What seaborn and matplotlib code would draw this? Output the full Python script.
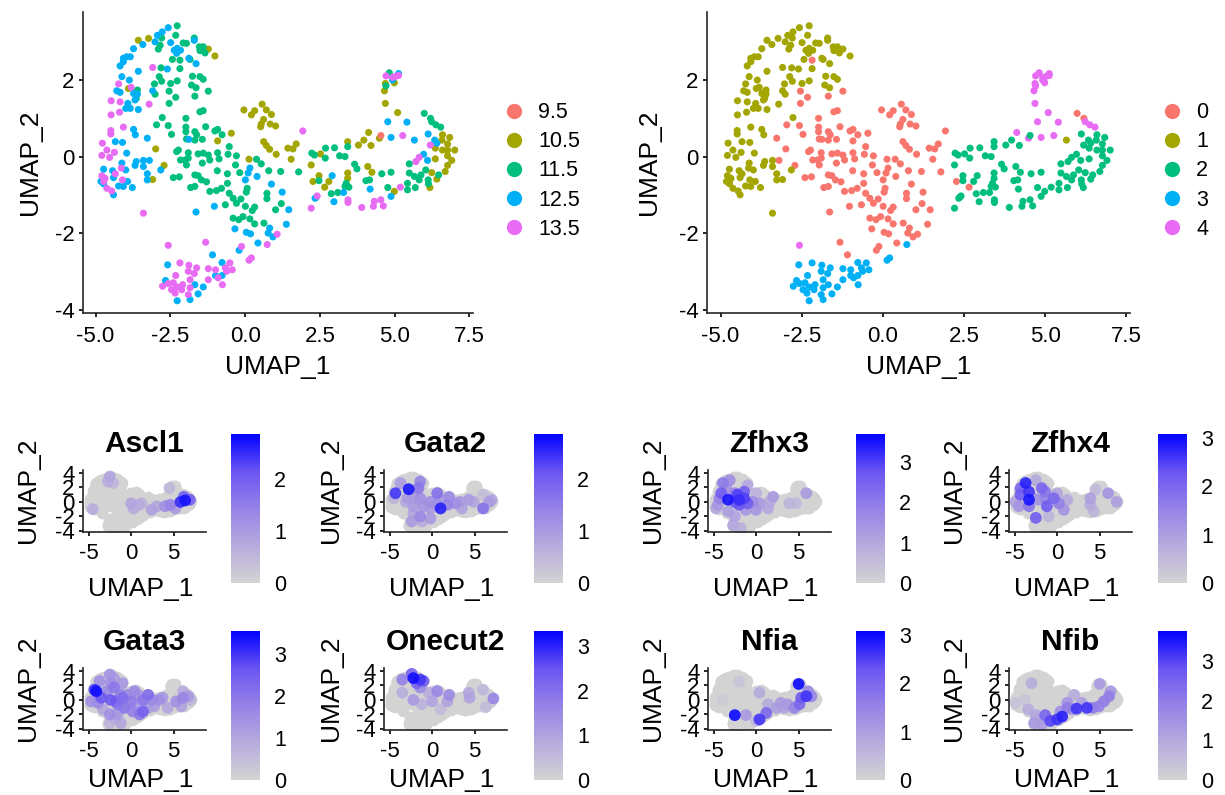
import numpy as np
import pandas as pd
import matplotlib
matplotlib.use('Agg')
import matplotlib.pyplot as plt
from matplotlib.cm import ScalarMappable
from matplotlib.colors import LinearSegmentedColormap, Normalize
import seaborn as sns

# UMAP coordinates, grouped by cluster and age
c0_105_x = [-0.04, 0.21, 0.32, 0.57, 0.71, 0.88, 0.62, 0.54, 0.52, 0.84, 1.02, 0.62, 0.71, 0.82, 1.04, 1.43, 1.6, 1.71, 1.54, -0.46, -0.92, 0.13, -2.99, -2.71, 2.27, 2.66]
c0_105_y = [1.22, 1.09, 1.2, 1.37, 1.22, 1.1, 0.97, 0.85, 0.78, 0.85, 0.8, 0.39, 0.29, 0.19, 0.06, 0.22, 0.2, 0.33, -0.07, 0.61, 0.41, -0.07, 0.2, -0.23, -0.65, -0.8]
c1_105_x = [-3.57, -3.23, -1.23, -1.01, -3.09, -3.9]
c1_105_y = [3.04, 3.09, 2.81, 2.63, -0.6, 1.78]
c2_105_x = [2.21, 2.52, 2.47, 2.8, 3.43, 3.43, 3.43, 3.79, 3.97, 4.21, 4.1, 4.24, 4.99, 6.6, 6.84, 6.58, 6.77, 6.36, 6.6, 6.77, 7.01, 6.77, 6.36, 6.91, 6.77, 6.69, 6.24, 6.41, 6.18]
c2_105_y = [-0.22, 0.07, -0.5, -0.65, 0.39, -0.43, -0.57, 0.3, 0.43, 0.29, -0.26, -0.41, -0.91, 0.57, 0.5, 0.43, 0.33, 0.22, 0.17, 0.17, 0.17, 0.02, -0.06, -0.1, -0.23, -0.39, -0.42, -0.59, -0.81]
c4_105_x = [4.66, 4.69, 4.99, 4.69, 5.1, 4.13, 4.49]
c4_105_y = [1.72, 1.91, 1.93, 1.39, 1.15, 0.63, 0.48]

c1_115_x = [-2.27, -2.32, -2.79, -2.07, -1.96, -1.7, -2.84, -2.9, -1.53, -1.4, -1.51, -1.34, -2.43, -1.84, -2.18, -2.81, -1.76, -1.51, -1.4, -2.87, -2.79, -3.03, -2.49, -2.27, -1.79, -1.64, -3.01, -3.6, -3.64, -2.77]
c1_115_y = [3.42, 3.17, 3.1, 2.97, 2.96, 3.1, 2.91, 2.81, 2.87, 2.87, 2.77, 2.71, 2.54, 2.54, 2.3, 2.32, 2.1, 2.09, 2.02, 2.09, 1.97, 1.9, 1.91, 1.98, 1.87, 1.8, 1.63, 1.74, 1.52, 1.02]
c0_115_x = [-2.54, -2.32, -1.68, -1.23, -2.54, -1.51, -1.4, -2.18, -2.96, -2.57, -2.46, -1.98, -1.98, -1.98, -1.68, -1.62, -1.68, -1.96, -1.43, -1.32, -1.01, -0.92, -0.77, -0.53, -2.23, -2.29, -1.9, -2.16, -2.01, -1.9, -1.96, -1.57, -1.4, -1.23, -1.43, -1.18, -0.92, -0.87, -0.57, -0.29, -0.32, -0.93, -0.59, -0.18, 0.38, 0.54, 0.79, 1.19, 1.79, -2.4, -2.2, -1.68, -1.57, -1.82, -1.68, -1.46, -1.29, -1.18, -0.96, -0.79, -0.59, -0.53, -0.4, -0.66, -0.29, -0.14, 0.01, 0.32, 0.24, 0.07, 0.04, 0.73, 0.73, 1.21, 1.02, -0.4, -0.21, -0.07, 0.16, 0.32, 0.63, 5.99, 6.2]
c0_115_y = [1.71, 1.55, 1.58, 1.71, 1.39, 1.17, 1.2, 2.52, 0.83, 0.81, 0.58, 1.0, 0.77, 0.65, 0.65, 0.57, 0.43, 0.46, 0.45, 0.78, 0.67, 0.71, 0.57, 0.26, 0.17, 0.13, 0.1, -0.09, -0.09, -0.04, -0.22, 0.07, 0.09, 0.04, -0.17, -0.09, 0.1, -0.06, 0.06, 0.02, -0.22, -0.37, -0.45, -0.42, -0.07, -0.19, -0.37, -0.39, -0.4, -0.55, -0.53, -0.48, -0.5, -0.81, -0.78, -0.61, -0.66, -0.91, -0.89, -0.83, -0.7, -0.96, -1.09, -1.26, -1.22, -1.11, -1.3, -1.32, -1.41, -0.83, -0.93, -0.96, -1.1, -1.23, -1.39, -1.61, -1.65, -1.57, -1.63, -1.76, -1.74, 1.13, 1.0]
c2_115_x = [2.23, 2.32, 2.69, 2.68, 2.99, 3.16, 3.34, 3.43, 3.66, 3.74, 2.47, 2.88, 3.1, 3.34, 3.47, 3.38, 2.38, 4.04, 4.16, 4.57, 4.88, 4.77, 5.49, 5.43, 5.49, 5.66, 5.82, 5.88, 6.04, 5.43, 5.69, 6.12, 6.13, 6.47]
c2_115_y = [0.09, 0.04, 0.22, -0.04, 0.23, 0.02, 0.0, 0.26, -0.2, -0.32, -0.63, -0.97, -0.94, -0.78, -0.8, -0.7, -1.06, -0.63, -0.61, -0.45, -0.41, -0.81, -0.19, -0.7, -0.43, -0.52, -0.61, -0.48, -0.35, -0.87, -0.81, -0.61, -0.71, -0.48]
c4_115_x = [4.82, 4.71, 6.24, 6.38, 6.54]
c4_115_y = [2.19, 1.85, 0.91, 0.83, 0.77]

c1_125_x = [-2.57, -2.77, -2.93, -3.01, -2.49, -3.42, -3.73, -2.37, -2.27, -2.16, -2.29, -1.7, -4.07, -3.96, -3.84, -4.07, -4.18, -1.88, -1.64, -2.6, -3.57, -4.12, -3.87, -4.29, -4.18, -3.09, -3.73, -3.6, -3.68, -3.92, -3.99, -3.84, -3.57, -3.73, -3.67, -4.34, -4.1, -3.96, -4.73, -4.43, -3.99, -4.12, -3.64, -3.4, -3.68, -3.4, -3.27, -3.27, -2.82, -4.4, -4.82, -4.73, -4.23, -4.07, -3.93, -3.77, -4.4, 5.66]
c1_125_y = [3.37, 3.26, 3.17, 3.0, 2.98, 2.93, 2.82, 2.78, 2.83, 2.78, 2.7, 3.04, 2.57, 2.61, 2.61, 2.48, 2.37, 2.57, 2.43, 2.29, 2.23, 2.09, 2.0, 1.72, 1.68, 1.72, 1.65, 1.63, 1.48, 1.39, 1.26, 1.26, 1.23, 0.71, 0.57, 0.39, 0.37, 0.09, -0.33, -0.37, -0.35, -0.17, -0.13, -0.1, -0.23, -0.26, -0.45, -0.61, -0.35, -0.55, -0.65, -0.71, -0.77, -0.78, -0.65, -0.81, -1.0, 0.43]
c0_125_x = [-3.2, -3.27, -1.88, -1.64, -1.03, 0.16, 0.1, 0.01, 0.4, 0.88, 1.24, 1.46, 1.38, 0.82, 0.77, -0.34, 0.04, 0.18, 0.43, 0.93, -0.2, -1.09]
c0_125_y = [-0.1, 0.48, 0.45, -1.45, -1.3, -0.3, -0.43, -0.61, -0.52, -0.72, -0.93, -1.39, -1.77, -1.87, -2.0, -1.89, -1.98, -2.02, -2.26, -2.1, -2.45, -2.57]
c3_125_x = [-0.77, -2.59, -2.66, -0.99, -0.77, -1.4, -1.57, -1.84, -2.27, -1.68]
c3_125_y = [-2.77, -2.83, -3.24, -3.11, -3.11, -3.41, -3.59, -3.74, -3.77, -3.35]
c2_125_x = [2.91, 4.18, 3.29, 2.97, 2.34, 4.88, 6.12, 6.34, 6.41, 5.97, 6.1]
c2_125_y = [-0.5, -0.85, -0.94, -1.18, -1.09, -1.04, 0.59, 0.43, 0.35, 0.06, -0.1]
c4_125_x = [5.13, 4.93, 4.77, 5.41, 4.88]
c4_125_y = [2.17, 2.0, 0.91, 0.9, 0.5]

c1_135_x = [-3.09, -4.23, -3.81, -4.48, -4.18, -3.21, -4.48, -4.2, -4.07, -4.49, -4.49, -4.77, -4.62, -4.37, -4.79, -4.53, -4.14, -4.34, -4.79, -4.68, -4.73, -4.1, -4.62, -4.46, -3.4]
c1_135_y = [2.33, 1.9, 1.81, 1.46, 1.43, 1.37, 1.09, 1.16, 0.77, 0.68, 0.59, 0.35, 0.17, 0.11, 0.03, -0.02, -0.3, -0.45, -0.5, -0.57, -0.65, -0.61, -0.83, -0.9, -1.48]
c0_135_x = [-1.32, -0.12, 1.07, 1.93]
c0_135_y = [-2.24, -2.35, -2.03, 0.67]
c3_135_x = [0.74, 0.21, 0.13, -2.18, -1.88, -1.62, -1.9, -1.7, -2.32, -1.84, -1.23, -0.99, -1.23, -0.9, -0.76, -0.66, -0.51, -0.43, -0.62, -2.76, -2.57, -2.4, -2.46, -2.27, -2.09, -2.34, -2.12, -1.9, -1.84]
c3_135_y = [-2.3, -2.65, -2.71, -2.78, -2.84, -2.91, -3.0, -3.06, -3.11, -3.22, -2.93, -2.96, -3.22, -3.17, -3.35, -2.91, -2.78, -2.96, -3.0, -3.39, -3.32, -3.3, -3.48, -3.41, -3.35, -3.57, -3.48, -3.61, -3.43]
c2_135_x = [2.21, 2.41, 3.44, 3.44, 3.9, 4.32, 4.29, 4.54, 4.62, 5.19, 5.71, 5.82, 6.19]
c2_135_y = [-1.35, -1.03, -1.13, -1.2, -1.33, -1.17, -1.3, -1.13, -1.29, -0.8, -0.13, -0.02, 0.3]
c4_135_x = [4.71, 4.93, 5.04, 5.13, 5.27, -2.57]
c4_135_y = [2.11, 2.07, 2.1, 2.12, 0.55, -2.32]

c2_95_x = [4.54]
c2_95_y = [0.55]

age_labels = ['9.5', '10.5', '11.5', '12.5', '13.5']
cluster_labels = ['0', '1', '2', '3', '4']
hue_colors = ['#F8766D', '#A3A500', '#00BF7D', '#00B0F6', '#E76BF3']

# expression spots per gene: x, y, log-normalised value
ascl1_x = [6.35, 5.8, 6.9, 6.2, 4.6, 4.0, 5.2, 2.4, 3.0, 0.0, 0.9, 0.3, 1.25, -2.5, -2.7, -2.1, -4.5, 4.5]
ascl1_y = [0.2, 0.0, 0.3, 0.7, -0.4, -0.6, -0.9, -1.1, -0.6, -0.2, -0.4, -0.9, -0.2, 3.5, 2.8, 2.6, -1.0, 1.9]
ascl1_v = [2.7, 2.5, 2.0, 2.0, 1.4, 1.2, 1.0, 0.9, 0.8, 0.8, 0.7, 0.7, 0.6, 0.8, 0.7, 0.5, 0.7, 0.5]

gata2_x = [-4.3, -2.75, -1.6, -1.4, -3.7, 0.6, 1.0, 2.0, -0.2, -1.4, -2.2, -2.9, -1.0, -0.2, -1.4, -2.4, -0.2, 3.3, 2.75, 1.8, 4.3, 6.0, 6.7, 7.0, 4.9, 6.0, -2.2, -3.1, -4.5, 1.0, 0.6, -2.2, -1.2, 3.5]
gata2_y = [1.2, 1.75, 1.9, 2.8, 2.6, 1.2, -0.9, 0.7, 0.0, 0.5, 0.5, 0.5, -0.6, -0.9, -2.0, -2.7, -2.3, 0.0, -0.2, -0.4, 0.3, -0.9, 0.0, 0.3, 0.0, 1.0, -0.6, 0.0, 0.5, 0.3, -0.4, -1.6, -2.7, -0.9]
gata2_v = [2.4, 2.7, 1.6, 1.4, 1.0, 1.7, 2.6, 1.3, 1.2, 1.2, 1.0, 1.0, 1.1, 1.0, 1.3, 1.0, 1.0, 1.0, 1.2, 1.4, 1.0, 1.7, 1.0, 0.8, 0.8, 0.4, 1.0, 0.7, 0.6, 1.0, 1.2, 0.8, 0.7, 0.9]

zfhx3_x = [-3.3, -4.1, -3.9, -3.1, -2.0, -1.4, -2.2, -1.4, -2.5, -1.0, -0.4, -2.0, -2.5, -4.5, -4.3, -4.7, -3.3, -1.2, 0.0, 1.4, 2.0, 0.0, 1.6, -2.5, -2.7, -1.8, 5.9, 3.9, 4.7, 0.4, -3.5, -1.0]
zfhx3_y = [0.3, 1.2, 2.6, 3.0, 0.3, 0.5, 1.0, 1.4, 1.2, -0.2, 0.0, -0.4, 0.0, -0.4, 0.5, -0.9, -1.3, -1.1, -1.1, -0.9, 0.7, 1.2, 0.0, -2.0, -3.2, -3.6, 1.2, -0.2, -0.2, -0.2, 1.9, 2.3]
zfhx3_v = [3.5, 2.6, 2.0, 1.6, 3.2, 3.0, 3.0, 2.6, 1.8, 2.6, 1.6, 2.8, 2.6, 1.4, 1.8, 1.0, 1.2, 1.4, 1.4, 1.0, 1.3, 0.8, 0.9, 1.1, 1.0, 0.8, 1.3, 0.7, 0.6, 1.3, 1.5, 1.0]

zfhx4_x = [-3.7, -4.3, -3.3, -4.3, -3.3, -1.8, -1.4, -2.2, -1.2, -0.4, 0.2, 0.8, -4.9, -4.5, -3.3, -2.5, -2.7, -2.5, 0.0, 1.2, 3.9, 3.9, 4.3, 4.5, 6.0, 7.0, -1.0, -1.4]
zfhx4_y = [2.6, 1.9, 1.4, 1.0, 0.3, 1.9, 1.4, 0.3, -0.6, 0.5, -0.2, -1.1, 0.0, -0.6, -0.6, -2.2, 0.5, 3.0, 1.2, 0.3, 0.5, -0.4, -1.3, 1.7, 1.2, 0.0, -2.0, 0.5]
zfhx4_v = [2.8, 2.0, 2.6, 2.2, 2.9, 2.0, 1.7, 1.2, 2.2, 2.0, 1.6, 1.2, 0.9, 1.2, 1.8, 2.2, 1.0, 0.8, 0.9, 0.8, 1.0, 0.8, 0.6, 0.5, 1.2, 1.0, 0.6, 1.5]

gata3_x = [-4.1, -4.3, -3.5, -4.7, -3.9, -3.3, -3.7, -2.5, -2.0, -1.0, -2.4, -2.0, -2.9, -1.2, -2.4, -1.8, -1.0, -0.8, 0.0, -0.4, 0.4, 0.8, 2.0, 1.4, 1.4, 1.0, 0.2, 0.6, 2.5, 3.3, 2.7, 4.3, 3.7, 5.3, 6.1, 6.7, 7.0, 5.9, 6.1, -2.5, -1.6, -1.2, -2.5, -2.0, -1.6, 2.0]
gata3_y = [1.2, 1.4, 0.3, -0.2, -0.4, -1.3, 2.6, 3.5, 3.0, 2.3, 2.3, 1.7, 1.2, 0.7, 0.0, -0.2, 0.3, -1.1, -0.2, 0.7, 1.2, 0.7, 0.7, 0.0, -1.6, -2.0, -1.6, -0.9, 0.0, 0.0, -0.9, -1.1, 0.3, -0.2, 0.3, 0.5, 0.0, -0.9, 1.2, -2.0, -2.0, -3.2, -3.2, -2.5, -0.6, -1.1]
gata3_v = [3.4, 3.0, 2.6, 1.5, 1.6, 1.0, 1.5, 1.4, 1.2, 1.3, 1.5, 2.0, 1.6, 1.8, 2.6, 2.2, 2.2, 2.0, 1.9, 1.6, 1.6, 1.3, 2.2, 2.0, 2.4, 2.0, 1.8, 1.2, 1.6, 1.5, 1.2, 1.0, 1.3, 1.5, 1.7, 1.3, 0.7, 1.1, 0.9, 1.5, 1.3, 1.0, 0.7, 0.9, 2.0, 1.2]

onecut2_x = [-2.2, -1.4, -1.8, -2.4, -1.0, -3.5, -1.4, 0.6, 2.0, -0.4, 0.0, 1.8, -2.2, -3.5, -1.2, 4.3, 4.4, 7.2, 6.0, 1.0, 6.3]
onecut2_y = [3.0, 2.8, 2.3, 3.6, 2.6, 2.8, 1.7, 1.2, 0.7, 1.0, -0.2, -0.2, 0.0, 1.0, -0.6, 1.0, 0.3, 0.2, 1.4, -1.3, -1.0]
onecut2_v = [3.2, 2.8, 2.2, 2.2, 2.4, 1.7, 1.5, 1.6, 1.5, 0.8, 1.0, 1.0, 1.2, 0.8, 0.7, 0.9, 1.0, 1.6, 0.6, 0.5, 0.5]

nfia_x = [5.0, 5.9, 5.3, 6.1, 6.5, 5.1, 4.5, 3.7, 2.9, 2.4, 3.3, 1.2, 0.4, 1.4, -2.5, -1.2, 0.4, -2.0, -3.9, 0.0, 4.1]
nfia_y = [2.2, 0.5, 0.3, 1.2, 0.5, -0.6, -1.1, -0.6, -0.4, -1.1, -1.1, -1.8, -2.7, -0.6, -2.1, -2.1, 1.0, 2.5, 0.0, -2.9, -1.1]
nfia_v = [3.0, 2.6, 2.2, 1.4, 1.5, 2.0, 1.5, 1.1, 1.1, 1.0, 0.9, 2.0, 2.6, 0.8, 3.0, 1.1, 0.8, 0.3, 0.2, 0.5, 0.3]

nfib_x = [5.0, 6.1, 6.3, 5.5, 4.9, 4.2, 3.5, 2.3, 2.9, 1.2, 1.2, 0.6, 0.0, -0.8, -1.4, -1.8, -2.7, -2.5, 2.0, -3.0, -3.4, -4.9, -3.8, 0.4, 1.8, -2.2]
nfib_y = [2.2, 0.5, 1.2, -0.2, -0.9, -1.1, -1.1, -1.2, -0.4, -0.4, -1.1, -2.3, -2.7, -2.9, -2.1, -3.4, -3.2, -2.1, 0.7, 2.3, -1.3, -0.4, 0.0, -1.6, -1.3, -2.9]
nfib_v = [1.3, 2.0, 1.4, 2.0, 1.9, 2.0, 3.2, 3.2, 1.2, 1.5, 2.0, 3.4, 3.2, 3.0, 2.5, 1.3, 1.3, 1.1, 0.9, 0.9, 0.9, 0.4, 0.3, 1.6, 1.5, 0.8]

gene_names = ['Ascl1', 'Gata2', 'Zfhx3', 'Zfhx4', 'Gata3', 'Onecut2', 'Nfia', 'Nfib']
gene_x = [ascl1_x, gata2_x, zfhx3_x, zfhx4_x, gata3_x, onecut2_x, nfia_x, nfib_x]
gene_y = [ascl1_y, gata2_y, zfhx3_y, zfhx4_y, gata3_y, onecut2_y, nfia_y, nfib_y]
gene_v = [ascl1_v, gata2_v, zfhx3_v, zfhx4_v, gata3_v, onecut2_v, nfia_v, nfib_v]
gene_max = [2.86, 2.86, 3.7, 3.08, 3.55, 3.34, 3.08, 3.77]

# all cells in one table for the two top panels
groups = [
    (c0_105_x, c0_105_y, '0', '10.5'), (c1_105_x, c1_105_y, '1', '10.5'),
    (c2_105_x, c2_105_y, '2', '10.5'), (c4_105_x, c4_105_y, '4', '10.5'),
    (c1_115_x, c1_115_y, '1', '11.5'), (c0_115_x, c0_115_y, '0', '11.5'),
    (c2_115_x, c2_115_y, '2', '11.5'), (c4_115_x, c4_115_y, '4', '11.5'),
    (c1_125_x, c1_125_y, '1', '12.5'), (c0_125_x, c0_125_y, '0', '12.5'),
    (c3_125_x, c3_125_y, '3', '12.5'), (c2_125_x, c2_125_y, '2', '12.5'),
    (c4_125_x, c4_125_y, '4', '12.5'), (c1_135_x, c1_135_y, '1', '13.5'),
    (c0_135_x, c0_135_y, '0', '13.5'), (c3_135_x, c3_135_y, '3', '13.5'),
    (c2_135_x, c2_135_y, '2', '13.5'), (c4_135_x, c4_135_y, '4', '13.5'),
    (c2_95_x, c2_95_y, '2', '9.5'),
]
frames = []
for gx, gy, cl, age in groups:
    frames.append(pd.DataFrame({'UMAP_1': gx, 'UMAP_2': gy, 'cluster': cl, 'age': age}))
cells = pd.concat(frames, ignore_index=True)

sns.set_style('ticks')
plt.rcParams['font.family'] = ['Liberation Sans', 'DejaVu Sans']
plt.rcParams['axes.linewidth'] = 1.2
plt.rcParams['axes.unicode_minus'] = False
plt.rcParams['text.color'] = 'black'
plt.rcParams['axes.labelcolor'] = 'black'

FW, FH = 1225, 795


def px_axes(fig, left, top, right, bottom):
    return fig.add_axes([left / FW, 1 - bottom / FH, (right - left) / FW, (bottom - top) / FH])


fig = plt.figure(figsize=(FW / 100, FH / 100), dpi=100)

# top row
top_axes = [(83, 473, 'age', age_labels, 9), (707, 1130, 'cluster', cluster_labels, 13)]
legend_x = [492, 1150]
for (left, right, col, labels, ypad), lx in zip(top_axes, legend_x):
    ax = px_axes(fig, left, 12, right, 313)
    sns.scatterplot(data=cells, x='UMAP_1', y='UMAP_2', hue=col, hue_order=labels,
                    palette=hue_colors, s=26, linewidth=0, ax=ax)
    ax.set_xlim(-5.42, 7.62)
    ax.set_ylim(-4.09, 3.78)
    ax.set_xticks([-5, -2.5, 0, 2.5, 5, 7.5])
    ax.set_xticklabels(['-5.0', '-2.5', '0.0', '2.5', '5.0', '7.5'])
    ax.set_yticks([-4, -2, 0, 2])
    ax.tick_params(labelsize=16, length=3, width=1.2, colors='black')
    ax.tick_params(axis='x', pad=6)
    ax.tick_params(axis='y', pad=3)
    ax.set_xlabel('UMAP_1', fontsize=19, labelpad=6)
    ax.set_ylabel('UMAP_2', fontsize=19, labelpad=ypad)
    sns.despine(ax=ax)
    handles, names = ax.get_legend_handles_labels()
    for h in handles:
        h.set_markersize(11)
    ax.legend(handles, names, loc='center left', frameon=False, fontsize=15.5,
              labelspacing=0.38, handletextpad=0.15, borderpad=0, borderaxespad=0,
              bbox_to_anchor=(lx / FW, 1 - 171 / FH), bbox_transform=fig.transFigure)

# feature plots
cmap = LinearSegmentedColormap.from_list(
    'feature', ['#D3D3D3', '#B7ABDE', '#9682E6', '#6A55F2', '#0000FF'])
col_left = [83, 384, 708, 1009]
col_bar = [231, 534, 856, 1158]
col_label = [40, 343, 665, 966]
row_top = [470, 668]
row_bottom = [532, 730]
row_xlabel = [-0.72, -0.62]
bar_top = [434, 631]
bar_bottom = [583, 780]

for i, gene in enumerate(gene_names):
    row, col = divmod(i, 4)
    ax = px_axes(fig, col_left[col], row_top[row], col_left[col] + 123, row_bottom[row])
    norm = Normalize(0, gene_max[i])
    sns.scatterplot(data=cells, x='UMAP_1', y='UMAP_2', color='#D3D3D3', s=72, linewidth=0, ax=ax)
    spots = pd.DataFrame({'x': gene_x[i], 'y': gene_y[i], 'v': gene_v[i]}).sort_values('v')
    sns.scatterplot(data=spots, x='x', y='y', hue='v', hue_norm=norm, palette=cmap,
                    s=72, linewidth=0, alpha=0.9, legend=False, ax=ax)
    ax.set_xlim(-5.65, 8.8)
    ax.set_ylim(-4.15, 4.4)
    ax.set_xticks([-5, 0, 5])
    ax.set_yticks([-4, -2, 0, 2, 4])
    ax.tick_params(labelsize=16, length=3, width=1.2, colors='black')
    ax.tick_params(axis='x', pad=5)
    ax.tick_params(axis='y', pad=3)
    ax.set_xlabel('UMAP_1', fontsize=19)
    ax.set_ylabel('UMAP_2', fontsize=19)
    ax.xaxis.set_label_coords(0.47, row_xlabel[row])
    ax.yaxis.set_label_coords((col_label[col] - col_left[col]) / 123, 0.68)
    sns.despine(ax=ax)
    ax.set_title(gene, fontsize=21.5, fontweight='bold', pad=13, color='black')

    cax = px_axes(fig, col_bar[col], bar_top[row], col_bar[col] + 29, bar_bottom[row])
    cb = fig.colorbar(ScalarMappable(norm=norm, cmap=cmap), cax=cax)
    cb.outline.set_visible(False)
    cb.set_ticks(np.arange(0, int(gene_max[i]) + 1))
    cax.tick_params(labelsize=15.5, length=6, width=0.8, color='white', direction='in',
                    left=True, right=True, pad=10, labelcolor='black')

fig.savefig('out.png', dpi=100)
